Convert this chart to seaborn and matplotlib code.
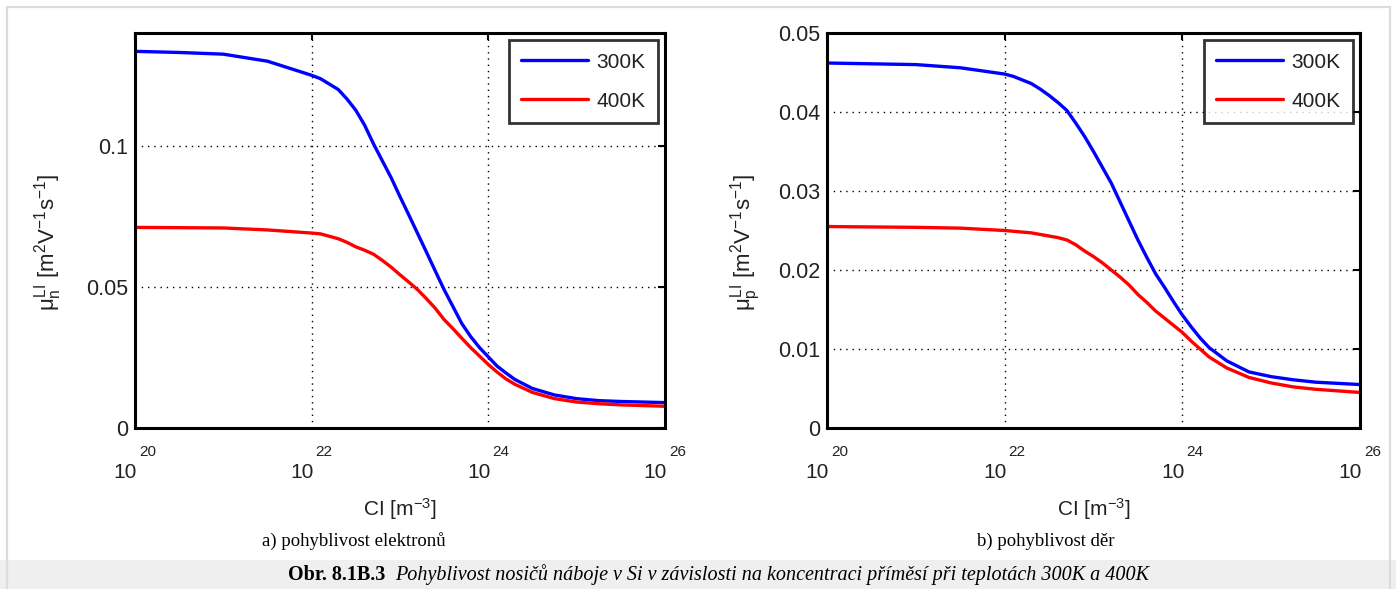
import numpy as np
import pandas as pd
import matplotlib
matplotlib.use("Agg")
import matplotlib.pyplot as plt
import seaborn as sns
from matplotlib.patches import Rectangle

# log10 of concentration CI [m^-3]
log_ci = [20, 20.5, 21, 21.5, 22, 22.1, 22.3, 22.4, 22.5, 22.6, 22.7, 22.8, 22.9, 23.0,
          23.1, 23.2, 23.3, 23.4, 23.5, 23.6, 23.7, 23.8, 23.9, 24.0, 24.1, 24.2, 24.3,
          24.5, 24.75, 25, 25.25, 25.5, 26]

# a) electrons
mu_n_300 = [0.1335, 0.1331, 0.1325, 0.1300, 0.1250, 0.1238, 0.1200, 0.1166, 0.1126,
            0.1073, 0.1007, 0.0947, 0.0887, 0.0820, 0.0755, 0.0689, 0.0623, 0.0556,
            0.0490, 0.0430, 0.0370, 0.0324, 0.0285, 0.0252, 0.0219, 0.0195, 0.0172,
            0.0140, 0.0117, 0.0104, 0.0097, 0.0094, 0.0090]
mu_n_400 = [0.0711, 0.0710, 0.0709, 0.0702, 0.0691, 0.0688, 0.0671, 0.0658, 0.0642,
            0.0630, 0.0616, 0.0594, 0.0570, 0.0543, 0.0517, 0.0490, 0.0458, 0.0424,
            0.0384, 0.0352, 0.0318, 0.0285, 0.0255, 0.0225, 0.0198, 0.0174, 0.0155,
            0.0126, 0.0104, 0.0092, 0.0086, 0.0082, 0.0077]

# b) holes
mu_p_300 = [0.0462, 0.0461, 0.0460, 0.0456, 0.0448, 0.0445, 0.0436, 0.0429, 0.0421,
            0.0412, 0.0402, 0.0386, 0.0369, 0.0350, 0.0330, 0.0310, 0.0286, 0.0262,
            0.0238, 0.0216, 0.0195, 0.0178, 0.0160, 0.0143, 0.0128, 0.0114, 0.0102,
            0.0085, 0.0071, 0.0065, 0.0061, 0.0058, 0.0055]
mu_p_400 = [0.0255, 0.02545, 0.0254, 0.0253, 0.0250, 0.0249, 0.0247, 0.0245, 0.0243,
            0.0241, 0.0238, 0.0232, 0.0224, 0.0217, 0.0209, 0.0200, 0.0191, 0.0181,
            0.0169, 0.0159, 0.0148, 0.0139, 0.0130, 0.0121, 0.0110, 0.0100, 0.0090,
            0.0076, 0.0064, 0.0057, 0.0052, 0.0049, 0.0045]

series_labels = ["300K", "400K"]
xtick_exps = [20, 22, 24, 26]
yticks_a = [0, 0.05, 0.1]
yticks_b = [0, 0.01, 0.02, 0.03, 0.04, 0.05]

sns.set_theme(style="white")
plt.rcParams["font.family"] = ["Liberation Sans", "DejaVu Sans"]
plt.rcParams["mathtext.fontset"] = "custom"
plt.rcParams["mathtext.rm"] = "Liberation Sans"
plt.rcParams["mathtext.it"] = "Liberation Sans"

W, H = 1396, 589
fig = plt.figure(figsize=(W / 100, H / 100), dpi=100)
fig.patch.set_facecolor("white")

# gray caption strip & border
fig.patches.append(Rectangle((0, 0), 1, 29 / H, transform=fig.transFigure,
                             facecolor="#efefef", edgecolor="none", zorder=0))
fig.patches.append(Rectangle((6.5 / W, -0.01), (1390 - 6.5) / W, 1.01 - 6.5 / H,
                             transform=fig.transFigure, facecolor="none",
                             edgecolor="#dcdcdc", lw=1.6, zorder=1))

TXT = "#222222"

def make_df(x_exps, y1, y2):
    x = 10.0 ** np.array(x_exps)
    return pd.DataFrame({
        "CI": np.concatenate([x, x]),
        "mu": np.concatenate([y1, y2]),
        "T": [series_labels[0]] * len(x) + [series_labels[1]] * len(x),
    })

def style_axes(ax, ylim, yticks, ylab, ylab_x):
    ax.set_xscale("log")
    ax.set_xlim(1e20, 1e26)
    ax.set_ylim(*ylim)
    ax.set_xticks([10.0 ** e for e in xtick_exps])
    ax.set_xticklabels([""] * len(xtick_exps))
    ax.xaxis.set_minor_locator(matplotlib.ticker.NullLocator())
    ax.set_yticks(yticks)
    ax.set_yticklabels([("%g" % v) for v in yticks], fontsize=15.5, color=TXT)
    ax.tick_params(direction="in", length=5, width=1.5, top=True, right=True,
                   colors="black", labelcolor=TXT, pad=5)
    ax.grid(True, which="major", color="black", linestyle=(0, (1, 3.5)), lw=1.0)
    for s in ax.spines.values():
        s.set_linewidth(2.2)
        s.set_color("black")
    for e in xtick_exps:
        ax.annotate("10", xy=(10.0 ** e, 0), xycoords=("data", "axes fraction"),
                    xytext=(2, -44.5), textcoords="offset pixels",
                    ha="right", va="center", fontsize=15, color=TXT,
                    annotation_clip=False)
        ax.annotate(str(e), xy=(10.0 ** e, 0), xycoords=("data", "axes fraction"),
                    xytext=(4, -24), textcoords="offset pixels",
                    ha="left", va="center", fontsize=11, color=TXT,
                    annotation_clip=False)
    ax.set_xlabel(r"CI [m$^{-3}$]", fontsize=15, color=TXT)
    ax.xaxis.set_label_coords(0.5, -0.172)
    ax.set_ylabel(ylab, fontsize=16, color=TXT)
    ax.yaxis.set_label_coords(ylab_x, 0.47)
    leg = ax.legend(loc="upper right", fontsize=15, frameon=True, fancybox=False,
                    handlelength=3.2, handletextpad=0.4, borderpad=0.6,
                    labelspacing=0.95, borderaxespad=0.35, markerfirst=True)
    leg.get_frame().set_edgecolor("black")
    leg.get_frame().set_linewidth(2.0)
    for t in leg.get_texts():
        t.set_color(TXT)
    for l in leg.get_lines():
        l.set_linewidth(2.4)

palette = {"300K": (0, 0, 1), "400K": (1, 0, 0)}

ax1 = fig.add_axes([135 / W, 1 - 428 / H, 530 / W, 395 / H])
sns.lineplot(data=make_df(log_ci, mu_n_300, mu_n_400), x="CI", y="mu", hue="T",
             palette=palette, lw=2.4, ax=ax1)
style_axes(ax1, (0, 0.14), yticks_a, r"$\mu_n^{LI}$ [m$^2$V$^{-1}$s$^{-1}$]", -0.134)

ax2 = fig.add_axes([827 / W, 1 - 428 / H, 533 / W, 395 / H])
sns.lineplot(data=make_df(log_ci, mu_p_300, mu_p_400), x="CI", y="mu", hue="T",
             palette=palette, lw=2.4, ax=ax2)
style_axes(ax2, (0, 0.05), yticks_b, r"$\mu_p^{LI}$ [m$^2$V$^{-1}$s$^{-1}$]", -0.120)

serif = ["Liberation Serif", "DejaVu Serif"]
fig.text(354 / W, 1 - 541 / H, "a) pohyblivost elektronů", ha="center", va="center",
         fontsize=13.5, family=serif, color="black")
fig.text(1046 / W, 1 - 541 / H, "b) pohyblivost děr", ha="center", va="center",
         fontsize=13.5, family=serif, color="black")
fig.text(385 / W, 1 - 575 / H, "Obr. 8.1B.3", ha="right", va="center",
         fontsize=14.5, family=serif, weight="bold", color="black")
fig.text(395 / W, 1 - 575 / H,
         "Pohyblivost nosičů náboje v Si v závislosti na koncentraci příměsí při teplotách 300K a 400K",
         ha="left", va="center", fontsize=14.5, family=serif, style="italic", color="black")

fig.savefig("out.png", dpi=100)
